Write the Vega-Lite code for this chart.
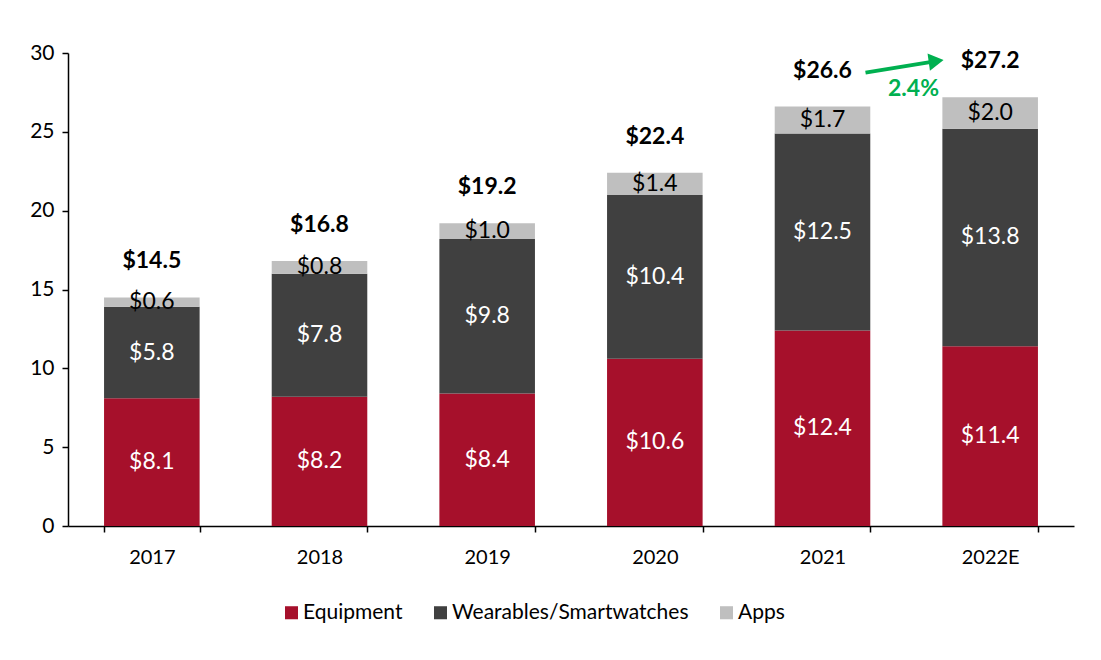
{
  "$schema": "https://vega.github.io/schema/vega-lite/v6.json",
  "width": 1006,
  "height": 473,
  "autosize": "none",
  "padding": {"left": 68, "top": 53, "right": 27, "bottom": 134},
  "background": "white",
  "config": {
    "view": {"stroke": null},
    "font": "Lato",
    "axis": {"labelFont": "Lato", "titleFont": "Lato"},
    "legend": {"labelFont": "Lato"}
  },
  "datasets": {
    "segments": [
      {"year": "2017", "category": "Equipment", "rank": 1, "value": 8.1},
      {"year": "2017", "category": "Wearables/Smartwatches", "rank": 2, "value": 5.8},
      {"year": "2017", "category": "Apps", "rank": 3, "value": 0.6},
      {"year": "2018", "category": "Equipment", "rank": 1, "value": 8.2},
      {"year": "2018", "category": "Wearables/Smartwatches", "rank": 2, "value": 7.8},
      {"year": "2018", "category": "Apps", "rank": 3, "value": 0.8},
      {"year": "2019", "category": "Equipment", "rank": 1, "value": 8.4},
      {"year": "2019", "category": "Wearables/Smartwatches", "rank": 2, "value": 9.8},
      {"year": "2019", "category": "Apps", "rank": 3, "value": 1.0},
      {"year": "2020", "category": "Equipment", "rank": 1, "value": 10.6},
      {"year": "2020", "category": "Wearables/Smartwatches", "rank": 2, "value": 10.4},
      {"year": "2020", "category": "Apps", "rank": 3, "value": 1.4},
      {"year": "2021", "category": "Equipment", "rank": 1, "value": 12.4},
      {"year": "2021", "category": "Wearables/Smartwatches", "rank": 2, "value": 12.5},
      {"year": "2021", "category": "Apps", "rank": 3, "value": 1.7},
      {"year": "2022E", "category": "Equipment", "rank": 1, "value": 11.4},
      {"year": "2022E", "category": "Wearables/Smartwatches", "rank": 2, "value": 13.8},
      {"year": "2022E", "category": "Apps", "rank": 3, "value": 2.0}
    ],
    "totals": [
      {"year": "2017", "total": 14.5},
      {"year": "2018", "total": 16.8},
      {"year": "2019", "total": 19.2},
      {"year": "2020", "total": 22.4},
      {"year": "2021", "total": 26.6},
      {"year": "2022E", "total": 27.2}
    ],
    "growth": [
      {"from": "2021", "to": "2022E", "start": 26.6, "end": 27.2, "label": "2.4%"}
    ]
  },
  "encoding": {
    "x": {
      "field": "year",
      "type": "nominal",
      "sort": ["2017", "2018", "2019", "2020", "2021", "2022E"],
      "scale": {"paddingInner": 0.43, "paddingOuter": 0.215},
      "axis": {
        "title": null,
        "labelAngle": 0,
        "labelFontSize": 20,
        "labelColor": "#000000",
        "labelPadding": 15,
        "domainColor": "#000000",
        "domainWidth": 1.5,
        "tickColor": "#000000",
        "tickWidth": 1.5,
        "tickSize": 6,
        "tickBand": "extent"
      }
    }
  },
  "layer": [
    {
      "data": {"name": "segments"},
      "mark": {"type": "bar"},
      "encoding": {
        "y": {
          "field": "value",
          "type": "quantitative",
          "stack": "zero",
          "scale": {"domain": [0, 30], "nice": false},
          "axis": {
            "title": null,
            "values": [0, 5, 10, 15, 20, 25, 30],
            "grid": false,
            "labelFontSize": 21,
            "labelColor": "#000000",
            "labelPadding": 8,
            "domainColor": "#000000",
            "domainWidth": 1.5,
            "tickColor": "#000000",
            "tickWidth": 1.5,
            "tickSize": 6
          }
        },
        "color": {
          "field": "category",
          "type": "nominal",
          "scale": {
            "domain": ["Equipment", "Wearables/Smartwatches", "Apps"],
            "range": ["#A6102B", "#404040", "#BFBFBF"]
          },
          "legend": {
            "title": null,
            "orient": "none",
            "direction": "horizontal",
            "legendX": 213,
            "legendY": 549,
            "labelFontSize": 21,
            "labelLimit": 0,
            "labelColor": "#000000",
            "symbolType": "square",
            "symbolSize": 170,
            "symbolStrokeWidth": 0,
            "symbolOpacity": 1,
            "columnPadding": 27,
            "labelOffset": 1
          }
        },
        "order": {"field": "rank", "type": "quantitative"}
      }
    },
    {
      "data": {"name": "segments"},
      "mark": {"type": "text", "fontSize": 23, "baseline": "middle", "align": "center"},
      "encoding": {
        "y": {"field": "value", "type": "quantitative", "stack": "zero", "bandPosition": 0.5},
        "detail": {"field": "category"},
        "order": {"field": "rank", "type": "quantitative"},
        "text": {"field": "value", "type": "quantitative", "format": "$.1f"},
        "color": {
          "condition": {"test": "datum.category === 'Apps'", "value": "#000000"},
          "value": "#FFFFFF"
        }
      }
    },
    {
      "data": {"name": "totals"},
      "mark": {"type": "text", "fontSize": 23, "fontWeight": "bold", "baseline": "middle", "align": "center", "yOffset": -36, "color": "#000000"},
      "encoding": {
        "y": {"field": "total", "type": "quantitative"},
        "text": {"field": "total", "type": "quantitative", "format": "$.1f"}
      }
    },
    {
      "data": {"name": "growth"},
      "mark": {"type": "rule", "color": "#00B050", "strokeWidth": 4, "xOffset": 43, "x2Offset": -54, "yOffset": -34, "y2Offset": -36},
      "encoding": {
        "x": {"field": "from", "type": "nominal"},
        "x2": {"field": "to"},
        "y": {"field": "start", "type": "quantitative"},
        "y2": {"field": "end"}
      }
    },
    {
      "data": {"name": "growth"},
      "mark": {"type": "point", "shape": "triangle-right", "filled": true, "color": "#00B050", "size": 300, "opacity": 1, "angle": -8, "xOffset": -54, "yOffset": -36},
      "encoding": {
        "x": {"field": "to", "type": "nominal"},
        "y": {"field": "end", "type": "quantitative"}
      }
    },
    {
      "data": {"name": "growth"},
      "mark": {"type": "text", "fontSize": 23, "fontWeight": "bold", "color": "#00B050", "baseline": "middle", "align": "center", "xOffset": 91, "yOffset": -18},
      "encoding": {
        "x": {"field": "from", "type": "nominal"},
        "y": {"field": "start", "type": "quantitative"},
        "text": {"field": "label"}
      }
    }
  ]
}
